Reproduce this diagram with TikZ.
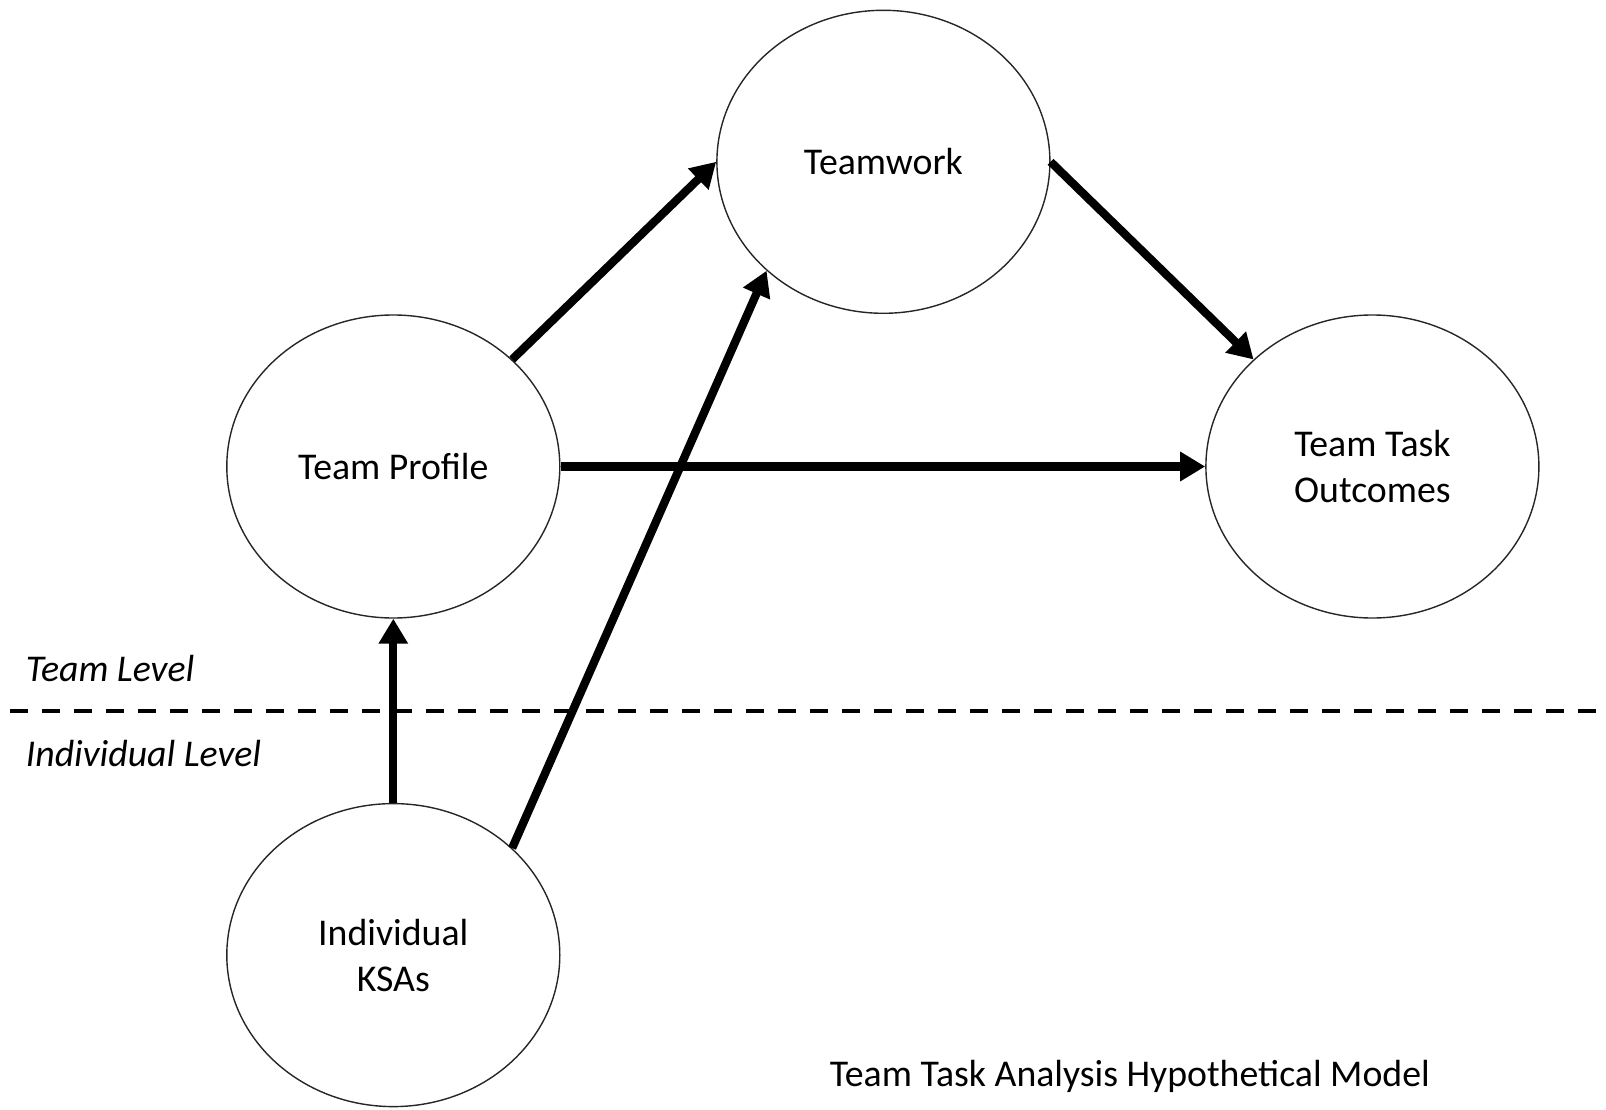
\documentclass[tikz,border=0pt]{standalone}
\usepackage{fontspec}
\setmainfont{Carlito}
\usetikzlibrary{shapes.geometric,arrows.meta}
\tikzset{
  blob/.style={draw=black!85, line width=1.4pt, ellipse, inner sep=0pt,
    minimum width=333pt, minimum height=303pt, align=center,
    font=\fontsize{37.8}{46}\selectfont},
  link/.style={line width=8.3pt, -{Triangle[length=25pt,width=28pt]}},
  lvl/.style={anchor=west, inner sep=0pt, font=\fontsize{37.8}{46}\selectfont\itshape},
}
\begin{document}
\begin{tikzpicture}[x=1pt,y=-1pt]
\useasboundingbox (0,0) rectangle (1606,1110);
\node[blob] (tw) at (883.4,161.8) {Teamwork};
\node[blob] (tp) at (393.3,466.5) {Team Profile};
\node[blob] (tto) at (1372.4,466.5) {Team Task\\Outcomes};
\node[blob] (ksa) at (393.3,955.1) {Individual\\KSAs};
\coordinate (dl) at (10,711);
\coordinate (dr) at (1606,711);
\draw[line width=3.5pt, dash pattern=on 18pt off 14pt] (dl) -- (dr);
\node[lvl] (tl) at (25.6,669) {Team Level};
\node[lvl] (il) at (25.6,753) {Individual Level};
\node[anchor=west, inner sep=0pt, font=\fontsize{37.8}{46}\selectfont] (cap) at (829.6,1076) {Team Task Analysis Hypothetical Model};
\draw[link] (tp.42) -- (tw.180);
\draw[link] (ksa.42) -- (tw.223);
\draw[link] (tw.0) -- (tto.138);
\draw[link] (tp.0) -- (tto.180);
\draw[link] (ksa.90) -- (tp.270);
\end{tikzpicture}
\end{document}
